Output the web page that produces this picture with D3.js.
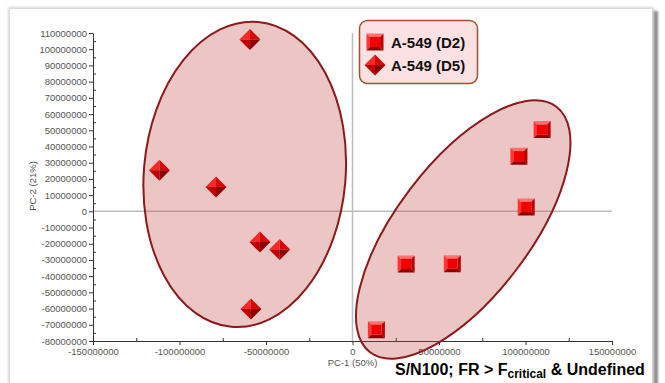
<!DOCTYPE html>
<html>
<head>
<meta charset="utf-8">
<script src="https://cdn.jsdelivr.net/npm/d3@7"></script>
<style>
  html, body { margin: 0; padding: 0; background: #fff; }
  svg { display: block; }
</style>
</head>
<body>
<svg id="chart" width="665" height="383"></svg>
<script>
// Series names for the two sample groups
const seriesNames = ["A-549 (D2)", "A-549 (D5)"];

// PC-1 / PC-2 scores, A-549 day 2 (squares)
const d2PC1 = [109.6e6, 96.2e6, 100.4e6, 31.0e6, 57.7e6, 13.8e6];
const d2PC2 = [50.4e6, 34.0e6, 2.7e6, -32.5e6, -32.3e6, -73.0e6];

// PC-1 / PC-2 scores, A-549 day 5 (diamonds)
const d5PC1 = [-59.3e6, -111.6e6, -78.9e6, -53.5e6, -42.1e6, -58.7e6];
const d5PC2 = [106.0e6, 25.3e6, 15.0e6, -19.0e6, -23.6e6, -60.3e6];

// Axis ticks
const xTicks = [-150e6, -100e6, -50e6, 0, 50e6, 100e6, 150e6];
const xMinor = [-125e6, -75e6, -25e6, 25e6, 75e6, 125e6];
const yTicks = d3.range(-80e6, 110e6 + 1, 10e6);
const yMinor = d3.range(-75e6, 110e6, 10e6);

// Group outlines: centre (PC-1, PC-2), semi-axes in PC-1 / PC-2 units, tilt in degrees
const groupCx = [-62.3e6, 64.0e6];
const groupCy = [22.8e6, -11.2e6];
const groupRx = [58.3e6, 89.1e6];
const groupRy = [94.4e6, 41.1e6];
const groupTilt = [5, -52.8];

const svg = d3.select("#chart");
const font = "'Liberation Sans', Arial, Helvetica, sans-serif";

const x = d3.scaleLinear().domain([-150e6, 150e6]).range([93, 612]);
const y = d3.scaleLinear().domain([-80e6, 110e6]).range([341, 33]);

// Panel with drop shadow
const defs = svg.append("defs");
const sh = defs.append("filter").attr("id", "panelShadow").attr("x", "-5%").attr("y", "-5%").attr("width", "110%").attr("height", "110%");
sh.append("feGaussianBlur").attr("stdDeviation", 1.2);

svg.append("rect").attr("x", 13).attr("y", 11).attr("width", 645).attr("height", 380)
  .attr("fill", "#8a8a8a").attr("filter", "url(#panelShadow)");
svg.append("rect").attr("x", 8).attr("y", 7).attr("width", 646).attr("height", 380)
  .attr("fill", "#d8d8d8").attr("filter", "url(#panelShadow)");
svg.append("rect").attr("x", 10).attr("y", 9).attr("width", 642).attr("height", 378)
  .attr("fill", "#ffffff");

// Zero reference lines
svg.append("line")
  .attr("x1", x(0)).attr("x2", x(0)).attr("y1", y(110e6)).attr("y2", y(-80e6))
  .attr("stroke", "#bdbdbd").attr("stroke-width", 1.5);
svg.append("line")
  .attr("x1", x(-150e6)).attr("x2", x(150e6)).attr("y1", y(0)).attr("y2", y(0))
  .attr("stroke", "#bdbdbd").attr("stroke-width", 1.5);

// Axes
const fmt = d => String(d);
function styleAxis(g) {
  g.selectAll("path.domain").attr("stroke", "#333").attr("stroke-width", 1);
  g.selectAll(".tick line").attr("stroke", "#333");
  g.selectAll("text").attr("fill", "#555").style("font-family", font).style("font-size", "9.5px");
}
const yAxis = svg.append("g").attr("transform", `translate(${x(-150e6)},0)`)
  .call(d3.axisLeft(y).tickValues(yTicks).tickFormat(fmt).tickSize(4).tickPadding(2).tickSizeOuter(0));
styleAxis(yAxis);
const yAxisMinor = svg.append("g").attr("transform", `translate(${x(-150e6)},0)`)
  .call(d3.axisRight(y).tickValues(yMinor).tickFormat("").tickSize(3).tickSizeOuter(0));
styleAxis(yAxisMinor);
yAxisMinor.select("path.domain").remove();

const xAxis = svg.append("g").attr("transform", `translate(0,${y(-80e6)})`)
  .call(d3.axisBottom(x).tickValues(xTicks).tickFormat(fmt).tickSize(4).tickPadding(3).tickSizeOuter(0));
styleAxis(xAxis);
const xAxisMinor = svg.append("g").attr("transform", `translate(0,${y(-80e6)})`)
  .call(d3.axisTop(x).tickValues(xMinor).tickFormat("").tickSize(3).tickSizeOuter(0));
styleAxis(xAxisMinor);
xAxisMinor.select("path.domain").remove();

// Axis titles
svg.append("text")
  .attr("transform", `translate(36,${186}) rotate(-90)`)
  .attr("text-anchor", "middle")
  .attr("fill", "#555").style("font-family", font).style("font-size", "9.5px")
  .text("PC-2 (21%)");
svg.append("text")
  .attr("x", x(0)).attr("y", 366)
  .attr("text-anchor", "middle")
  .attr("fill", "#555").style("font-family", font).style("font-size", "9.5px")
  .text("PC-1 (50%)");

// Group ellipses
groupCx.forEach((cx, i) => {
  const rx = Math.abs(x(groupRx[i]) - x(0));
  const ry = Math.abs(y(groupRy[i]) - y(0));
  svg.append("ellipse")
    .attr("transform", `translate(${x(cx)},${y(groupCy[i])}) rotate(${groupTilt[i]})`)
    .attr("rx", rx).attr("ry", ry)
    .attr("fill", "rgba(192,62,62,0.3)")
    .attr("stroke", "#8b1a1a").attr("stroke-width", 2);
});

// Bevelled markers
function drawSquare(g, s) {
  const h = s / 2, b = s * 0.2, i = h - b;
  g.append("polygon").attr("points", `${-h},${-h} ${h},${-h} ${i},${-i} ${-i},${-i}`).attr("fill", "#ff7070");
  g.append("polygon").attr("points", `${-h},${-h} ${-i},${-i} ${-i},${i} ${-h},${h}`).attr("fill", "#ff3434");
  g.append("polygon").attr("points", `${h},${-h} ${h},${h} ${i},${i} ${i},${-i}`).attr("fill", "#b80000");
  g.append("polygon").attr("points", `${-h},${h} ${h},${h} ${i},${i} ${-i},${i}`).attr("fill", "#8c0000");
  g.append("rect").attr("x", -i).attr("y", -i).attr("width", 2 * i).attr("height", 2 * i).attr("fill", "#f20000");
}
function drawDiamond(g, s) {
  const h = s / 2;
  g.append("polygon").attr("points", `0,${-h} ${-h},0 0,0`).attr("fill", "#f42a2a");
  g.append("polygon").attr("points", `0,${-h} ${h},0 0,0`).attr("fill", "#d40a0a");
  g.append("polygon").attr("points", `${-h},0 0,${h} 0,0`).attr("fill", "#c00000");
  g.append("polygon").attr("points", `${h},0 0,${h} 0,0`).attr("fill", "#8e0000");
}

d5PC1.forEach((v, i) => {
  drawDiamond(svg.append("g").attr("transform", `translate(${x(v)},${y(d5PC2[i])})`), 21);
});
d2PC1.forEach((v, i) => {
  drawSquare(svg.append("g").attr("transform", `translate(${x(v)},${y(d2PC2[i])})`), 17);
});

// Legend
const lg = svg.append("g");
lg.append("rect").attr("x", 359.5).attr("y", 20.5).attr("width", 118).attr("height", 63).attr("rx", 8)
  .attr("fill", "#fbe1e1").attr("stroke", "#a0522d").attr("stroke-width", 1.5);
drawSquare(lg.append("g").attr("transform", "translate(375,42)"), 17);
drawDiamond(lg.append("g").attr("transform", "translate(375,65)"), 21);
seriesNames.forEach((name, i) => {
  lg.append("text").attr("x", 391).attr("y", 47.5 + i * 23)
    .attr("fill", "#111").style("font-family", font).style("font-size", "15px").style("font-weight", "bold")
    .text(name);
});

// Caption
const cap = svg.append("text").attr("x", 395).attr("y", 375)
  .attr("fill", "#000").style("font-family", font).style("font-size", "16px").style("font-weight", "bold");
cap.append("tspan").text("S/N100; FR > F");
cap.append("tspan").attr("dy", 3).style("font-size", "12px").text("critical");
cap.append("tspan").attr("dy", -3).text(" & Undefined");
</script>
</body>
</html>
